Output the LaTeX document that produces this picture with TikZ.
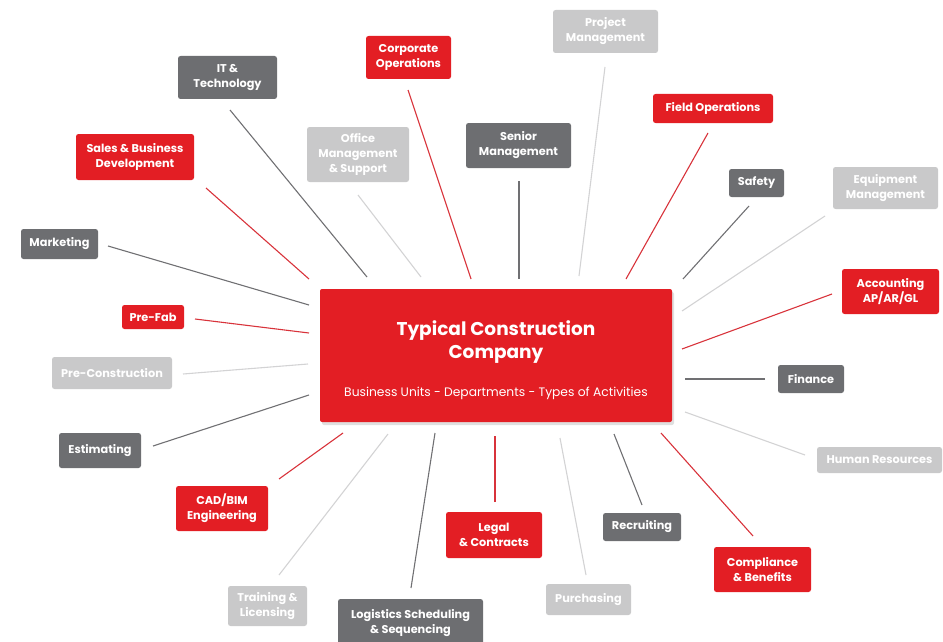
\documentclass[tikz,border=0pt]{standalone}
\usepackage{fontspec}
\setmainfont{Poppins}
\usetikzlibrary{shadows}
\definecolor{cred}{HTML}{E31E24}
\definecolor{cdark}{HTML}{6D6E71}
\definecolor{clight}{HTML}{C9C9CA}
\definecolor{lred}{HTML}{D8333B}
\definecolor{ldark}{HTML}{707073}
\definecolor{llight}{HTML}{D3D3D4}
\tikzset{
  box/.style={rounded corners=2.5pt, text=white, align=center, inner sep=0pt,
    font=\fontsize{11.3}{15}\selectfont\bfseries},
  redbox/.style={box, fill=cred},
  darkbox/.style={box, fill=cdark},
  lightbox/.style={box, fill=clight},
  redline/.style={draw=lred, line width=1.1pt},
  darkline/.style={draw=ldark, line width=1.1pt},
  lightline/.style={draw=llight, line width=1.1pt},
  ctext/.style={text=white, inner sep=0pt, anchor=base},
}
\newcommand{\bx}[6]{\node[#1, minimum width=#4pt, minimum height=#5pt] (#2) at (#3) {#6};}
\begin{document}
\begin{tikzpicture}[x=1pt,y=-1pt]
\useasboundingbox (0,0) rectangle (943,642);
% center
\node[fill=cred, rounded corners=2pt, minimum width=352pt, minimum height=133pt,
  drop shadow={shadow xshift=2pt, shadow yshift=-3pt, opacity=0.25},
  inner sep=0pt] (ctr) at (496,355.5) {};
\node[ctext, font=\fontsize{18.5}{23}\selectfont\bfseries] (ct1) at (496,335) {Typical Construction};
\node[ctext, font=\fontsize{18.5}{23}\selectfont\bfseries] (ct2) at (496,358) {Company};
\node[ctext, font=\fontsize{12.3}{15}\selectfont] (csub) at (496,396) {Business Units - Departments - Types of Activities};
% boxes
\bx{darkbox}{it}{227.5,77.5}{99}{43}{IT \&\\Technology}
\bx{redbox}{corp}{408.5,57.5}{85}{43}{Corporate\\Operations}
\bx{redbox}{sales}{135,157}{118}{46}{Sales \& Business\\Development}
\bx{lightbox}{office}{358,154.5}{102}{55}{Office\\Management\\\& Support}
\bx{darkbox}{mkt}{59.5,244}{77}{30}{Marketing}
\bx{darkbox}{senior}{518.5,145.5}{105}{45}{Senior\\Management}
\bx{lightbox}{project}{605.5,31.5}{105}{43}{Project\\Management}
\bx{redbox}{field}{713,108.5}{120}{29}{Field Operations}
\bx{darkbox}{safety}{756.5,183}{55}{28}{Safety}
\bx{lightbox}{equip}{885.5,188}{105}{42}{Equipment\\Management}
\bx{redbox}{acct}{890.5,291.5}{97}{45}{Accounting\\AP/AR/GL}
\bx{redbox}{prefab}{153,317}{62}{24}{Pre-Fab}
\bx{lightbox}{precon}{112,373}{120}{32}{Pre-Construction}
\bx{darkbox}{est}{100,450.5}{82}{35}{Estimating}
\bx{redbox}{cad}{222,508.5}{92}{45}{CAD/BIM\\Engineering}
\bx{lightbox}{train}{267.5,606}{79}{40}{Training \&\\Licensing}
\bx{darkbox}{logi}{410.5,623.5}{145}{49}{Logistics Scheduling\\\& Sequencing}
\bx{redbox}{legal}{494,535}{96}{46}{Legal\\\& Contracts}
\bx{darkbox}{fin}{811,379}{66}{28}{Finance}
\bx{lightbox}{hr}{879.5,460}{125}{26}{Human Resources}
\bx{darkbox}{recr}{642,527}{78}{28}{Recruiting}
\bx{redbox}{compl}{762.5,569.5}{97}{45}{Compliance\\\& Benefits}
\bx{lightbox}{purch}{588.5,599.5}{85}{31}{Purchasing}
% connector endpoints
\coordinate (it1) at (230,110);   \coordinate (it2) at (367,277);
\coordinate (sa1) at (206,188);   \coordinate (sa2) at (309,279);
\coordinate (of1) at (358,195);   \coordinate (of2) at (421,277);
\coordinate (co1) at (408,90);    \coordinate (co2) at (471,279);
\coordinate (mk1) at (108,246);   \coordinate (mk2) at (309,305);
\coordinate (se1) at (519,181);   \coordinate (se2) at (519,279);
\coordinate (pr1) at (605,67);    \coordinate (pr2) at (579,276);
\coordinate (fi1) at (708,133);   \coordinate (fi2) at (626,279);
\coordinate (sf1) at (749,206);   \coordinate (sf2) at (683,279);
\coordinate (eq1) at (825,216);   \coordinate (eq2) at (682,311);
\coordinate (ac1) at (832,294);   \coordinate (ac2) at (682,349);
\coordinate (pf1) at (195,319);   \coordinate (pf2) at (309,333);
\coordinate (pc1) at (183,374);   \coordinate (pc2) at (308,364);
\coordinate (es1) at (153,446);   \coordinate (es2) at (309,395);
\coordinate (cd1) at (279,479);   \coordinate (cd2) at (343,433);
\coordinate (tr1) at (279,575);   \coordinate (tr2) at (388,434);
\coordinate (lo1) at (411,588);   \coordinate (lo2) at (435,433);
\coordinate (le1) at (495,502);   \coordinate (le2) at (495,436);
\coordinate (pu1) at (586,575);   \coordinate (pu2) at (560,438);
\coordinate (rc1) at (642,505);   \coordinate (rc2) at (614,434);
\coordinate (cm1) at (753,536);   \coordinate (cm2) at (661,433);
\coordinate (fn1) at (765,379);   \coordinate (fn2) at (685,379);
\coordinate (hr1) at (805,455);   \coordinate (hr2) at (685,412);
% connectors
\draw[darkline] (it1) -- (it2);
\draw[redline] (sa1) -- (sa2);
\draw[lightline] (of1) -- (of2);
\draw[redline] (co1) -- (co2);
\draw[darkline] (mk1) -- (mk2);
\draw[darkline] (se1) -- (se2);
\draw[lightline] (pr1) -- (pr2);
\draw[redline] (fi1) -- (fi2);
\draw[darkline] (sf1) -- (sf2);
\draw[lightline] (eq1) -- (eq2);
\draw[redline] (ac1) -- (ac2);
\draw[redline] (pf1) -- (pf2);
\draw[lightline] (pc1) -- (pc2);
\draw[darkline] (es1) -- (es2);
\draw[redline] (cd1) -- (cd2);
\draw[lightline] (tr1) -- (tr2);
\draw[darkline] (lo1) -- (lo2);
\draw[redline] (le1) -- (le2);
\draw[lightline] (pu1) -- (pu2);
\draw[darkline] (rc1) -- (rc2);
\draw[redline] (cm1) -- (cm2);
\draw[darkline] (fn1) -- (fn2);
\draw[lightline] (hr1) -- (hr2);
\end{tikzpicture}
\end{document}
